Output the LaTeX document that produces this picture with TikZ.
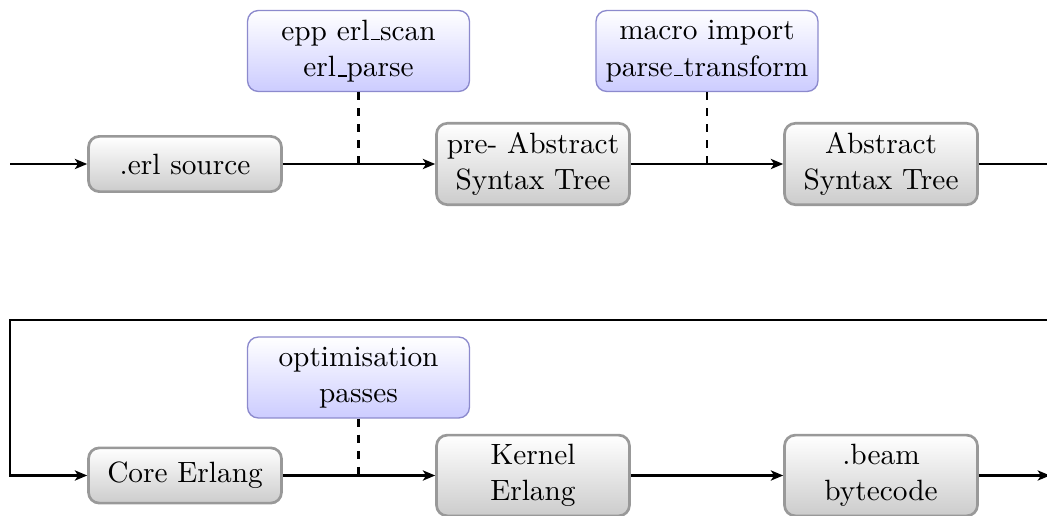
\documentclass[tikz,border=0pt]{standalone}
\usetikzlibrary{arrows.meta}
% short baseline rule used as the underscore in tool names
\newcommand\lowbar{\leavevmode\kern.06em\vbox{\hrule width.3em height.5pt}}
\begin{document}
\begin{tikzpicture}[
  x=0.37313pt, y=-0.37313pt,
  font=\fontsize{10.95}{13.6}\selectfont,
  stage/.style={draw=black!40, line width=1pt, rounded corners=4pt,
    top color=white, bottom color=black!20, align=center,
    minimum width=72pt, minimum height=20.6pt},
  tool/.style={draw={rgb,255:red,140;green,138;blue,205}, line width=0.5pt,
    rounded corners=4pt, top color=white, bottom color=blue!20,
    align=center, minimum width=82.8pt, minimum height=30.2pt},
  flow/.style={thick, -{Stealth[length=4.6pt,width=3.8pt,inset=1.2pt]}},
  hook/.style={thick, dashed}
]
\clip (0,0) rectangle (1047,516);

% compilation stages
\node[stage] (src)  at (185,164)   {.erl source};
\node[stage] (pre)  at (533,164)   {pre- Abstract\\Syntax Tree};
\node[stage] (ast)  at (881,164)   {Abstract\\Syntax Tree};
\node[stage] (core) at (185,475.5) {Core Erlang};
\node[stage] (kern) at (533,475.5) {Kernel\\Erlang};
\node[stage] (beam) at (881,475.5) {.beam\\bytecode};

% tools acting between stages
\node[tool] (scan) at (358.5,51)    {epp erl\lowbar scan\\erl\lowbar parse};
\node[tool] (mac)  at (707,51)      {macro import\\parse\lowbar transform};
\node[tool] (opt)  at (358.5,377.5) {optimisation\\passes};

% free ends of the flow
\coordinate (in)    at (10,164);
\coordinate (wrapR) at (1060,164);
\coordinate (wrapL) at (10,320);
\coordinate (out)   at (1050,475.5);

% main flow
\draw[flow] (in) -- (src);
\draw[flow] (src) -- (pre);
\draw[flow] (pre) -- (ast);
\draw[flow] (ast.east) -- (wrapR) |- (wrapL) |- (core.west);
\draw[flow] (core) -- (kern);
\draw[flow] (kern) -- (beam);
\draw[flow] (beam.east) -- (out);

% tool hooks
\draw[hook] (scan.south) -- (scan.south |- src.east);
\draw[hook] (mac.south)  -- (mac.south |- pre.east);
\draw[hook] (opt.south)  -- (opt.south |- core.east);
\end{tikzpicture}
\end{document}
